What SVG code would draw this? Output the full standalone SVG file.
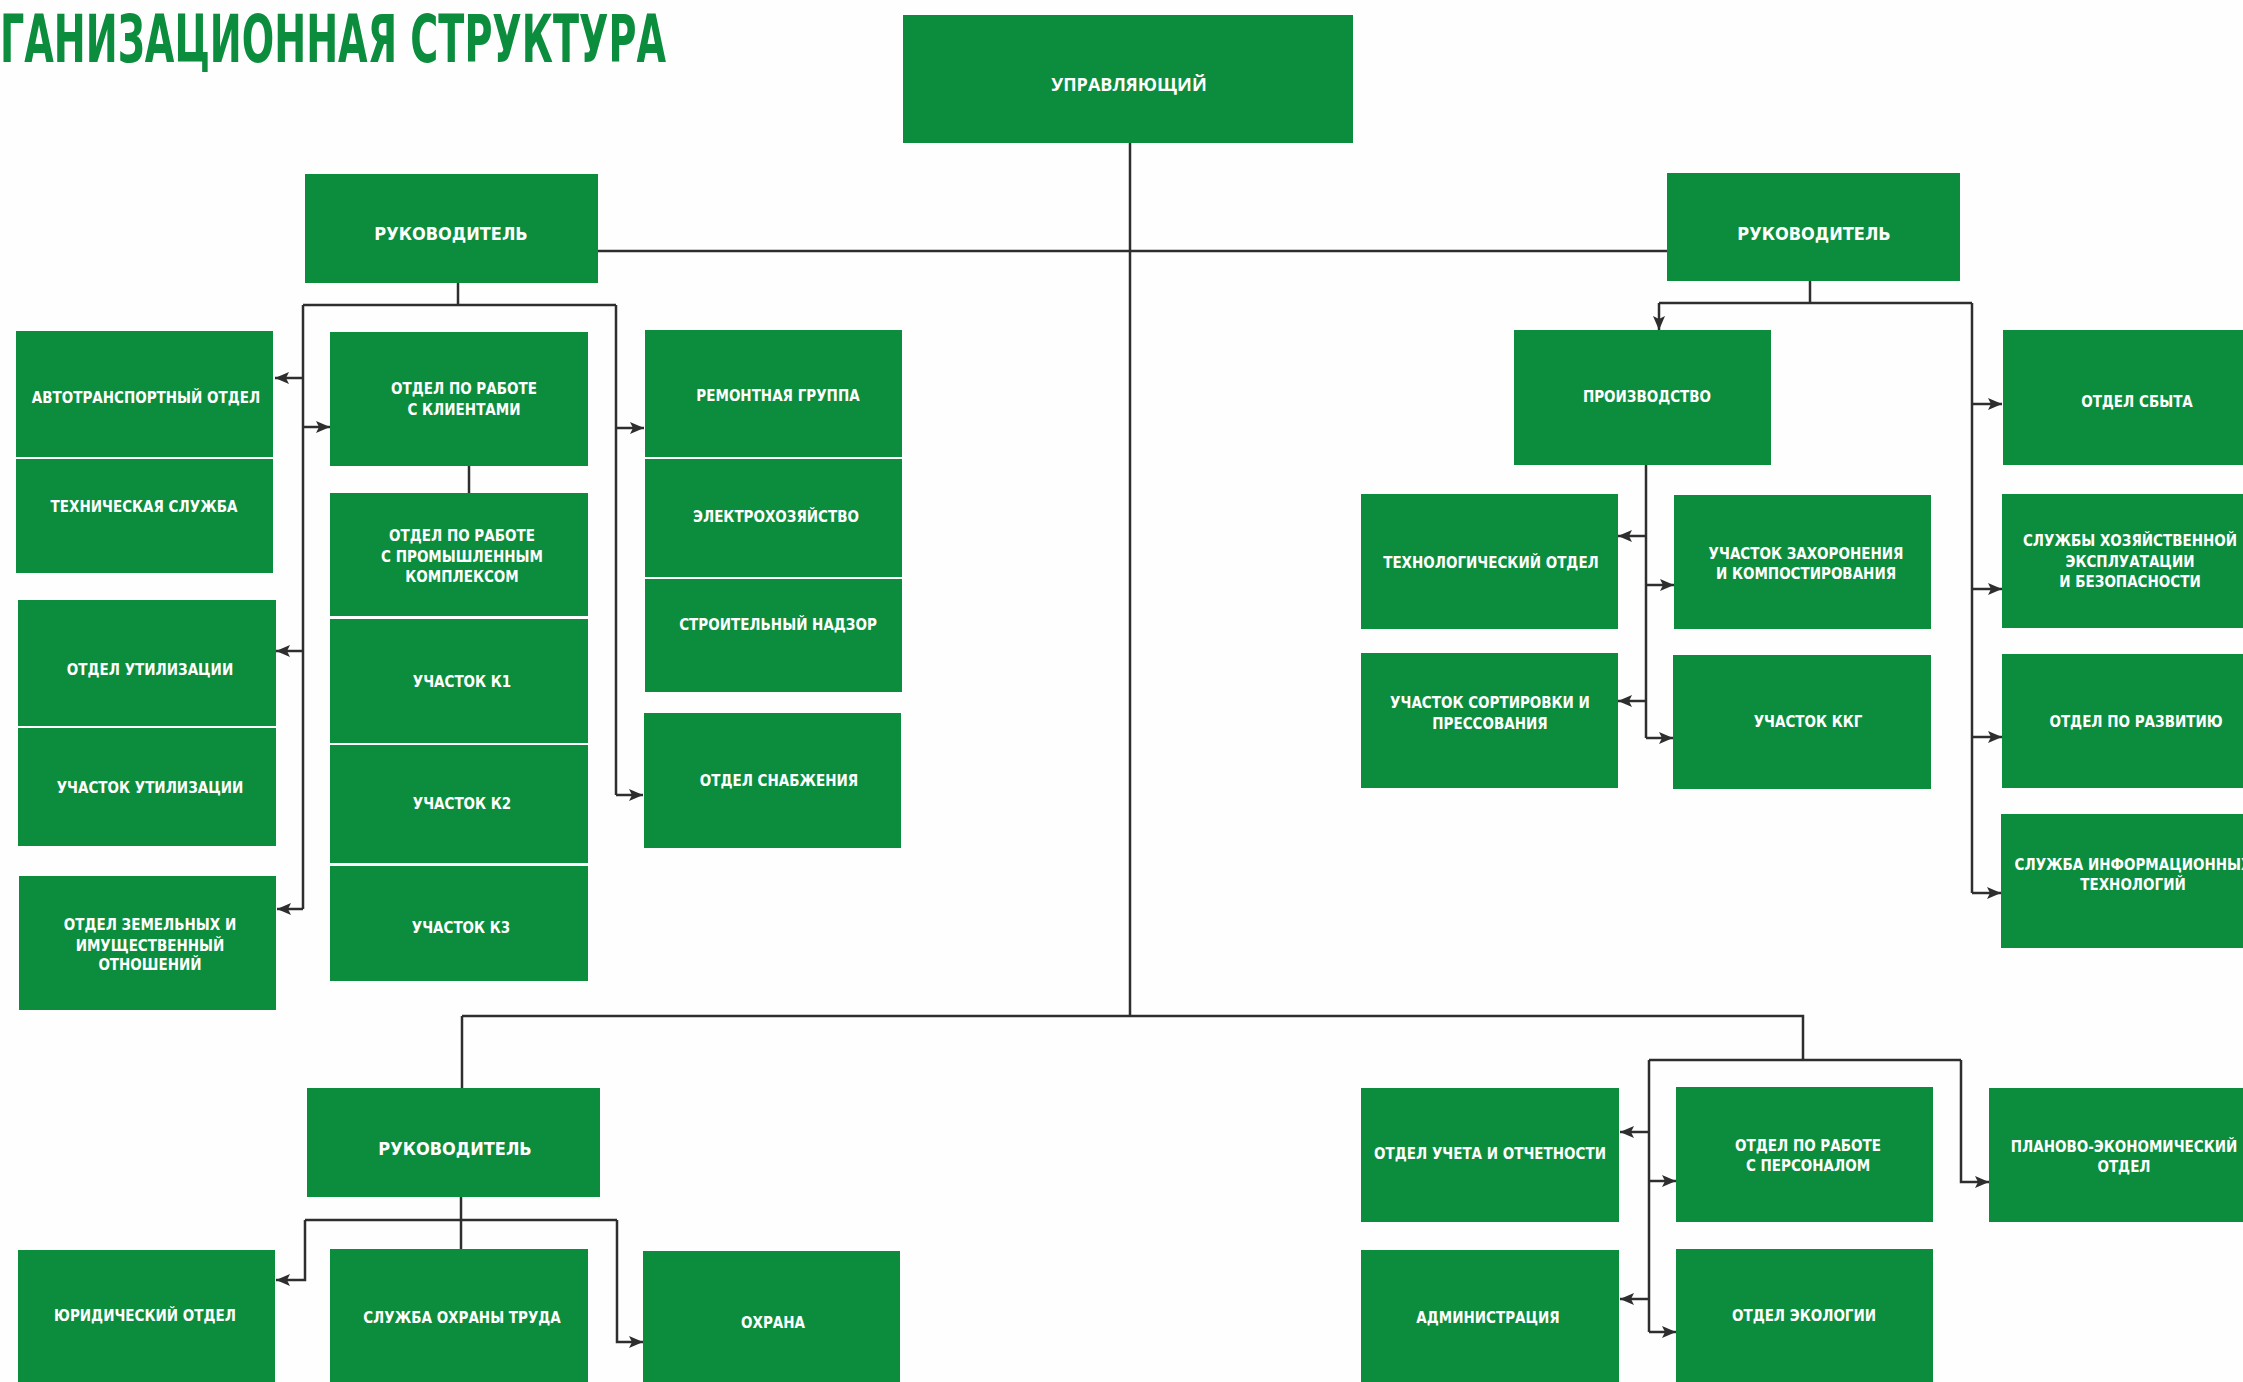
<svg xmlns="http://www.w3.org/2000/svg" width="2243" height="1382" viewBox="0 0 2243 1382">
<defs>
<style>
.b{fill:#0b8d3d}
.t{fill:#fff;font-family:"DejaVu Sans Condensed","Liberation Sans Narrow","Liberation Sans",sans-serif;font-weight:bold;font-size:15px;text-anchor:middle}
.h{fill:#fff;font-family:"DejaVu Sans Condensed","Liberation Sans",sans-serif;font-weight:bold;font-size:18px;text-anchor:middle}
.u{fill:#fff;font-family:"Open Sans","DejaVu Sans",sans-serif;font-weight:bold;font-size:18px;text-anchor:middle}
.c{fill:none;stroke:#2e2e2e;stroke-width:2.5}
.a{fill:none;stroke:#2e2e2e;stroke-width:2.5;marker-end:url(#ar)}
</style>
<marker id="ar" markerUnits="userSpaceOnUse" markerWidth="14" markerHeight="12" viewBox="0 0 14 12" refX="14" refY="6" orient="auto">
<path d="M0,0 L14,6 L0,12 L3,6 z" fill="#2e2e2e"/>
</marker>
</defs>
<rect width="2243" height="1382" fill="#fefefe"/>
<text x="0" y="62" fill="#0b8d3d" font-family="DejaVu Sans Condensed, Liberation Sans, sans-serif" font-weight="bold" font-size="66" textLength="666" lengthAdjust="spacingAndGlyphs">ГАНИЗАЦИОННАЯ СТРУКТУРА</text>

<g id="connectors">
<path class="c" d="M1130,143 V1016"/>
<path class="c" d="M598,251 H1667"/>
<path class="c" d="M462,1016 H1803 V1060"/>
<path class="c" d="M462,1016 V1088"/>
<path class="c" d="M458,283 V305"/>
<path class="c" d="M303,305 H616"/>
<path class="c" d="M303,305 V909"/>
<path class="a" d="M303,378 H275"/>
<path class="a" d="M303,427 H330"/>
<path class="a" d="M303,651 H276"/>
<path class="a" d="M303,909 H277"/>
<path class="c" d="M616,305 V795"/>
<path class="a" d="M616,428 H644"/>
<path class="a" d="M616,795 H643"/>
<path class="c" d="M469,466 V493"/>
<path class="c" d="M461,1197 V1249"/>
<path class="c" d="M305,1220 H617"/>
<path class="a" d="M305,1220 V1280 H276"/>
<path class="a" d="M617,1220 V1342 H643"/>
<path class="c" d="M1810,281 V303"/>
<path class="c" d="M1659,303 H1972"/>
<path class="a" d="M1659,303 V330"/>
<path class="c" d="M1972,303 V893"/>
<path class="a" d="M1972,404 H2002"/>
<path class="a" d="M1972,589 H2002"/>
<path class="a" d="M1972,737 H2002"/>
<path class="a" d="M1972,893 H2001"/>
<path class="c" d="M1646,465 V738"/>
<path class="a" d="M1646,536 H1618"/>
<path class="a" d="M1646,585 H1674"/>
<path class="a" d="M1646,701 H1618"/>
<path class="a" d="M1646,738 H1673"/>
<path class="c" d="M1649,1060 H1961"/>
<path class="c" d="M1649,1060 V1332"/>
<path class="a" d="M1649,1132 H1620"/>
<path class="a" d="M1649,1181 H1676"/>
<path class="a" d="M1649,1299 H1620"/>
<path class="a" d="M1649,1332 H1676"/>
<path class="a" d="M1961,1060 V1182 H1989"/>
</g>

<g id="upr"><rect class="b" x="903" y="15" width="450" height="128"/><text class="u" x="1129" y="91">УПРАВЛЯЮЩИЙ</text></g>
<g id="ruk_left"><rect class="b" x="305" y="174" width="293" height="109"/><text class="h" x="451" y="240">РУКОВОДИТЕЛЬ</text></g>
<g id="ruk_right"><rect class="b" x="1667" y="173" width="293" height="108"/><text class="h" x="1814" y="240">РУКОВОДИТЕЛЬ</text></g>
<g id="ruk_bottom"><rect class="b" x="307" y="1088" width="293" height="109"/><text class="h" x="455" y="1155">РУКОВОДИТЕЛЬ</text></g>

<g id="avto"><rect class="b" x="16" y="331" width="257" height="126"/><text class="t" x="146" y="403">АВТОТРАНСПОРТНЫЙ ОТДЕЛ</text></g>
<g id="tech"><rect class="b" x="16" y="459" width="257" height="114"/><text class="t" x="144" y="512">ТЕХНИЧЕСКАЯ СЛУЖБА</text></g>
<g id="util"><rect class="b" x="18" y="600" width="258" height="126"/><text class="t" x="150" y="675">ОТДЕЛ УТИЛИЗАЦИИ</text></g>
<g id="uch_util"><rect class="b" x="18" y="728" width="258" height="118"/><text class="t" x="150" y="793">УЧАСТОК УТИЛИЗАЦИИ</text></g>
<g id="zem"><rect class="b" x="19" y="876" width="257" height="134"/><text class="t" x="150" y="930">ОТДЕЛ ЗЕМЕЛЬНЫХ И</text><text class="t" x="150" y="950.5">ИМУЩЕСТВЕННЫЙ</text><text class="t" x="150" y="970">ОТНОШЕНИЙ</text></g>

<g id="klient"><rect class="b" x="330" y="332" width="258" height="134"/><text class="t" x="464" y="394">ОТДЕЛ ПО РАБОТЕ</text><text class="t" x="464" y="415">С КЛИЕНТАМИ</text></g>
<g id="prom"><rect class="b" x="330" y="493" width="258" height="123"/><text class="t" x="462" y="541">ОТДЕЛ ПО РАБОТЕ</text><text class="t" x="462" y="561.5">С ПРОМЫШЛЕННЫМ</text><text class="t" x="462" y="582">КОМПЛЕКСОМ</text></g>
<g id="k1"><rect class="b" x="330" y="619" width="258" height="124"/><text class="t" x="462" y="687">УЧАСТОК К1</text></g>
<g id="k2"><rect class="b" x="330" y="745" width="258" height="118"/><text class="t" x="462" y="809">УЧАСТОК К2</text></g>
<g id="k3"><rect class="b" x="330" y="866" width="258" height="115"/><text class="t" x="461" y="933">УЧАСТОК К3</text></g>

<g id="remont"><rect class="b" x="645" y="330" width="257" height="127"/><text class="t" x="778" y="401">РЕМОНТНАЯ ГРУППА</text></g>
<g id="elektro"><rect class="b" x="645" y="459" width="257" height="118"/><text class="t" x="776" y="522">ЭЛЕКТРОХОЗЯЙСТВО</text></g>
<g id="stroi"><rect class="b" x="645" y="579" width="257" height="113"/><text class="t" x="778" y="630">СТРОИТЕЛЬНЫЙ НАДЗОР</text></g>
<g id="snab"><rect class="b" x="644" y="713" width="257" height="135"/><text class="t" x="779" y="786">ОТДЕЛ СНАБЖЕНИЯ</text></g>

<g id="yur"><rect class="b" x="18" y="1250" width="257" height="140"/><text class="t" x="145" y="1321">ЮРИДИЧЕСКИЙ ОТДЕЛ</text></g>
<g id="ohr_truda"><rect class="b" x="330" y="1249" width="258" height="141"/><text class="t" x="462" y="1323">СЛУЖБА ОХРАНЫ ТРУДА</text></g>
<g id="ohrana"><rect class="b" x="643" y="1251" width="257" height="139"/><text class="t" x="773" y="1328">ОХРАНА</text></g>

<g id="proizv"><rect class="b" x="1514" y="330" width="257" height="135"/><text class="t" x="1647" y="402">ПРОИЗВОДСТВО</text></g>
<g id="tehnol"><rect class="b" x="1361" y="494" width="257" height="135"/><text class="t" x="1491" y="568">ТЕХНОЛОГИЧЕСКИЙ ОТДЕЛ</text></g>
<g id="zahoron"><rect class="b" x="1674" y="495" width="257" height="134"/><text class="t" x="1806" y="559">УЧАСТОК ЗАХОРОНЕНИЯ</text><text class="t" x="1806" y="579">И КОМПОСТИРОВАНИЯ</text></g>
<g id="sort"><rect class="b" x="1361" y="653" width="257" height="135"/><text class="t" x="1490" y="708">УЧАСТОК СОРТИРОВКИ И</text><text class="t" x="1490" y="729">ПРЕССОВАНИЯ</text></g>
<g id="kkg"><rect class="b" x="1673" y="655" width="258" height="134"/><text class="t" x="1808" y="727">УЧАСТОК ККГ</text></g>

<g id="sbyt"><rect class="b" x="2003" y="330" width="260" height="135"/><text class="t" x="2137" y="407">ОТДЕЛ СБЫТА</text></g>
<g id="hoz"><rect class="b" x="2002" y="494" width="260" height="134"/><text class="t" x="2130" y="546">СЛУЖБЫ ХОЗЯЙСТВЕННОЙ</text><text class="t" x="2130" y="567">ЭКСПЛУАТАЦИИ</text><text class="t" x="2130" y="587">И БЕЗОПАСНОСТИ</text></g>
<g id="razv"><rect class="b" x="2002" y="654" width="260" height="134"/><text class="t" x="2136" y="727">ОТДЕЛ ПО РАЗВИТИЮ</text></g>
<g id="it"><rect class="b" x="2001" y="814" width="260" height="134"/><text class="t" x="2133" y="870">СЛУЖБА ИНФОРМАЦИОННЫХ</text><text class="t" x="2133" y="890">ТЕХНОЛОГИЙ</text></g>

<g id="uchet"><rect class="b" x="1361" y="1088" width="258" height="134"/><text class="t" x="1490" y="1159">ОТДЕЛ УЧЕТА И ОТЧЕТНОСТИ</text></g>
<g id="personal"><rect class="b" x="1676" y="1087" width="257" height="135"/><text class="t" x="1808" y="1151">ОТДЕЛ ПО РАБОТЕ</text><text class="t" x="1808" y="1171">С ПЕРСОНАЛОМ</text></g>
<g id="plan"><rect class="b" x="1989" y="1088" width="260" height="134"/><text class="t" x="2124" y="1152">ПЛАНОВО-ЭКОНОМИЧЕСКИЙ</text><text class="t" x="2124" y="1172">ОТДЕЛ</text></g>
<g id="admin"><rect class="b" x="1361" y="1250" width="258" height="140"/><text class="t" x="1488" y="1323">АДМИНИСТРАЦИЯ</text></g>
<g id="ekol"><rect class="b" x="1676" y="1249" width="257" height="141"/><text class="t" x="1804" y="1321">ОТДЕЛ ЭКОЛОГИИ</text></g>
</svg>
